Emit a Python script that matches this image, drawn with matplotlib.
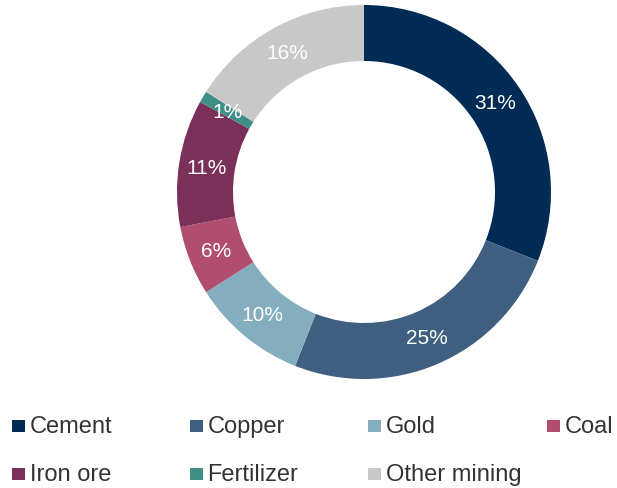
import matplotlib
matplotlib.use('Agg')
import matplotlib.pyplot as plt
from matplotlib.patches import Rectangle

plt.rcParams['font.family'] = ['Liberation Sans', 'DejaVu Sans']

# share of emissions by sector (%)
sectors = ['Cement', 'Copper', 'Gold', 'Coal', 'Iron ore', 'Fertilizer', 'Other mining']
shares = [31, 25, 10, 6, 11, 1, 16]
colors = ['#002b55', '#3f5f80', '#84adbd', '#b14e70', '#7a3058', '#3f8f87', '#c8c8c8']

W, H = 617, 489
fig = plt.figure(figsize=(W / 100, H / 100), dpi=100)

# donut, axes laid out in pixel units so radius 187 == 187 px
cx, cy, half = 364, 193, 200
ax = fig.add_axes([(cx - half) / W, (H - cy - half) / H, 2 * half / W, 2 * half / H])
wedges, texts, autotexts = ax.pie(
    shares, colors=colors, radius=187, startangle=90, counterclock=False,
    wedgeprops=dict(width=56, linewidth=0),
    autopct=lambda p: '{:.0f}%'.format(p), pctdistance=0.85,
    textprops=dict(color='white', fontsize=15))
ax.set_xlim(-half, half)
ax.set_ylim(-half, half)
ax.set_aspect('equal')
ax.axis('off')

# legend, 4 columns x 2 rows
col_x = [12, 190, 368, 547]
row_y = [427, 475]
sq = 12.5
for i, (name, c) in enumerate(zip(sectors, colors)):
    x = col_x[i % 4]
    y = row_y[i // 4]
    fig.add_artist(Rectangle((x / W, (H - y - sq / 2) / H), sq / W, sq / H,
                             transform=fig.transFigure, facecolor=c, edgecolor='none'))
    fig.text((x + sq + 5) / W, (H - y) / H, name, fontsize=17, color='#333333',
             va='center', ha='left')

fig.savefig('out.png', dpi=100)
